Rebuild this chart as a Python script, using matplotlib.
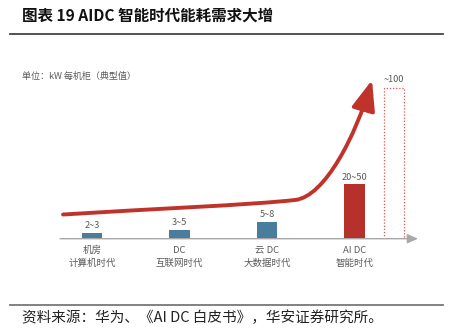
import matplotlib
matplotlib.use("Agg")
import matplotlib.pyplot as plt
from matplotlib.path import Path
from matplotlib.patches import FancyArrowPatch
from matplotlib.lines import Line2D

plt.rcParams['font.family'] = ['Noto Sans CJK SC', 'DejaVu Sans']

# ---- data ----
categories_line1 = ["机房", "DC", "云 DC", "AI DC"]
categories_line2 = ["计算机时代", "互联网时代", "大数据时代", "智能时代"]
value_labels = ["2~3", "3~5", "5~8", "20~50"]
bar_heights = [3.8, 6.0, 11.1, 36.2]          # illustrative heights (kW/rack, schematic)
future_label = "~100"
future_height = 100
title = "图表 19 AIDC 智能时代能耗需求大增"
unit_text = "单位：kW 每机柜（典型值）"
source_text = "资料来源：华为、《AI DC 白皮书》，华安证券研究所。"

# ---- style ----
W, H = 449, 332
blue = "#4A7C9B"
red = "#B7312C"
curve_red = "#C0332B"
grey_text = "#5A5A5A"
axis_grey = "#A8A8A8"

fig = plt.figure(figsize=(W / 100, H / 100), dpi=100)

# main axes: pixel box 60..418 (x), 70..238.7 (y from top)
ax_l, ax_r, ax_t, ax_b = 60, 418, 70, 238.7
ax = fig.add_axes([ax_l / W, (H - ax_b) / H, (ax_r - ax_l) / W, (ax_b - ax_t) / H])
ax.set_xlim(-0.3657, 3.7257)
ax.set_ylim(0, 112.12)
ax.axis('off')

xpos = list(range(len(bar_heights)))
bw = 0.235
ax.bar(xpos[:3], bar_heights[:3], width=bw, color=blue, zorder=3)
ax.bar(xpos[3], bar_heights[3], width=bw, color=red, zorder=3)
fut_x = 3.449
ax.bar(fut_x, future_height, width=bw, facecolor='none', edgecolor="#E0524A",
       linestyle=(0, (1, 1.5)), linewidth=0.9, zorder=3)

for x, h, lab in zip(xpos, bar_heights, value_labels):
    ax.annotate(lab, (x, h), xytext=(0, 5.2), textcoords='offset points',
                ha='center', va='center', fontsize=6.6, color=grey_text)
ax.annotate(future_label, (fut_x, future_height), xytext=(0, 6.5), textcoords='offset points',
            ha='center', va='center', fontsize=6.6, color=grey_text)

for x, l1, l2 in zip(xpos, categories_line1, categories_line2):
    ax.annotate(l1, (x, 0), xytext=(0, -8.3), textcoords='offset points',
                ha='center', va='center', fontsize=6.8, color=grey_text, annotation_clip=False)
    ax.annotate(l2, (x, 0), xytext=(0, -17.6), textcoords='offset points',
                ha='center', va='center', fontsize=6.8, color=grey_text, annotation_clip=False)

# x axis with arrow
ax.annotate('', xy=(1.0, 0), xytext=(0, 0), xycoords='axes fraction',
            arrowprops=dict(arrowstyle='-|>,head_length=0.8,head_width=0.35',
                            color=axis_grey, lw=1.0, mutation_scale=8,
                            shrinkA=0, shrinkB=0), annotation_clip=False)

# trend arrow (schematic curve)
verts = [(-0.331, 16.08), (0.663, 19.74), (1.806, 22.40), (2.32, 25.72),
         (2.663, 27.91), (3.017, 68.92), (3.2, 105.46)]
codes = [Path.MOVETO, Path.CURVE4, Path.CURVE4, Path.CURVE4,
         Path.CURVE4, Path.CURVE4, Path.CURVE4]
arrow = FancyArrowPatch(path=Path(verts, codes),
                        arrowstyle='-|>,head_length=2.3,head_width=0.9',
                        mutation_scale=8, color=curve_red, lw=2.8,
                        transform=ax.transData, zorder=4, clip_on=False)
ax.add_patch(arrow)

# unit text
fig.text(22 / W, 1 - 76 / H, unit_text, fontsize=6.5, color=grey_text, ha='left', va='center')

# title and rules
fig.text(22 / W, 1 - 16 / H, title, fontsize=11.2, fontweight='bold', color='#111111',
         ha='left', va='center')
fig.add_artist(Line2D([10 / W, 443 / W], [1 - 33.5 / H, 1 - 33.5 / H], color='#444444', lw=1.3))
fig.add_artist(Line2D([10 / W, 443 / W], [1 - 305 / H, 1 - 305 / H], color='#777777', lw=1.3))
fig.text(22 / W, 1 - 318 / H, source_text, fontsize=10.5, color='#222222', ha='left', va='center')

fig.savefig("out.png", dpi=100, facecolor='white')
